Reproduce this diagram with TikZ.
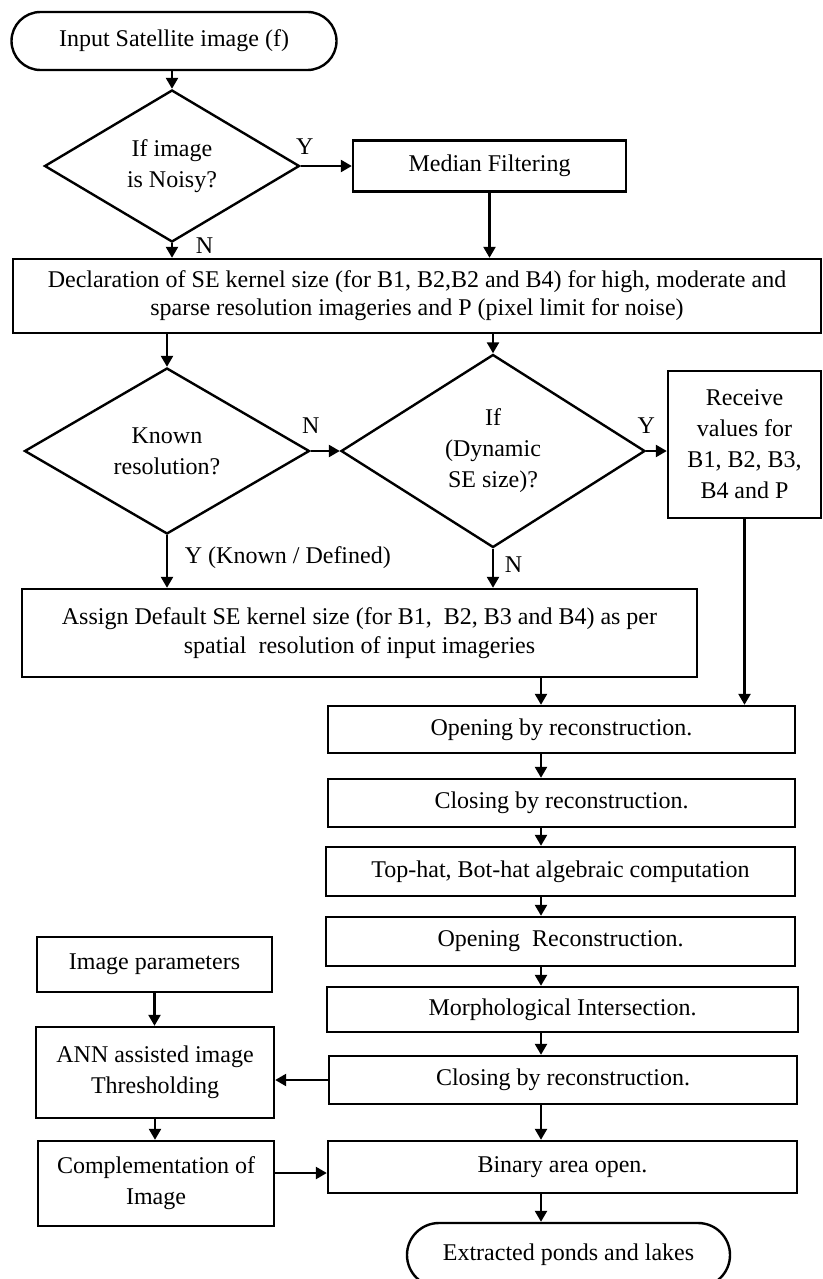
\documentclass[tikz,border=0pt]{standalone}
\usepackage{fontspec}
\setmainfont{Liberation Serif}
\usetikzlibrary{shapes.geometric, arrows.meta, positioning}

\begin{document}
\begin{tikzpicture}[x=0.5pt, y=-0.5pt, line width=1.2pt, >={Triangle[length=5.5pt,width=6pt]},
    every node/.style={font=\fontsize{12}{15.5}\selectfont},
    process/.style={draw, rectangle, align=center, inner sep=0pt},
    decision/.style={draw, diamond, align=center, inner sep=0pt},
    terminal/.style={draw, rectangle, align=center, inner sep=0pt}]

    \useasboundingbox (0,0) rectangle (823,1279);

    % Top part: input and noise check
    \node[terminal, rounded corners=14.5pt, minimum width=162.5pt, minimum height=29pt] (input) at (174,41) {Input Satellite image (f)};
    \node[decision, minimum width=127.5pt, minimum height=76pt] (noisy) at (172,166) {If image\\is Noisy?};
    \node[process, minimum width=136.5pt, minimum height=25.5pt] (median) at (489.5,166) {Median Filtering};
    \node[process, minimum width=404pt, minimum height=37pt, font=\fontsize{12}{14}\selectfont] (declare) at (417,296)
        {Declaration of SE kernel size (for B1, B2,B2 and B4) for high, moderate and\\
         sparse resolution imageries and P (pixel limit for noise)};

    % Middle part: kernel size decisions
    \node[decision, minimum width=142.5pt, minimum height=83pt] (known) at (167,451) {Known\\resolution?};
    \node[decision, minimum width=152pt, minimum height=96.5pt] (dynamic) at (493,451) {If\\(Dynamic\\SE size)?};
    \node[process, minimum width=76.5pt, minimum height=73.5pt] (receive) at (744.5,444.5) {Receive\\values for\\B1, B2, B3,\\B4 and P};
    \node[process, minimum width=337.5pt, minimum height=44pt, font=\fontsize{12}{14.5}\selectfont] (assign) at (359.5,633)
        {Assign Default SE kernel size (for B1,~ B2, B3 and B4) as per\\
         spatial~ resolution of input imageries};

    % Right column: morphological steps
    \node[process, minimum width=233.5pt, minimum height=23.5pt] (open1) at (561.5,729.5) {Opening by reconstruction.};
    \node[process, minimum width=233.5pt, minimum height=24pt] (close1) at (561.5,803) {Closing by reconstruction.};
    \node[process, minimum width=234.5pt, minimum height=24.5pt] (tophat) at (560.5,871.5) {Top-hat, Bot-hat algebraic computation};
    \node[process, minimum width=234.5pt, minimum height=24.5pt] (open2) at (560.5,941.5) {Opening~ Reconstruction.};
    \node[process, minimum width=235.5pt, minimum height=22.5pt] (morph) at (562.5,1009.5) {Morphological Intersection.};
    \node[process, minimum width=234pt, minimum height=24pt] (close2) at (563,1080) {Closing by reconstruction.};
    \node[process, minimum width=234.5pt, minimum height=26pt] (binary) at (562.5,1167) {Binary area open.};
    \node[terminal, rounded corners=16pt, minimum width=161.5pt, minimum height=32pt] (output) at (568.5,1255) {Extracted ponds and lakes};

    % Left column: thresholding
    \node[process, minimum width=117.5pt, minimum height=27.5pt] (params) at (154.5,964.5) {Image parameters};
    \node[process, minimum width=119pt, minimum height=45.5pt] (ann) at (155,1072.5) {ANN assisted image\\Thresholding};
    \node[process, minimum width=118pt, minimum height=42.5pt] (compl) at (156,1183.5) {Complementation of\\Image};

    \coordinate (col) at (541,0);
    \coordinate (row) at (0,1173);

    % Connectors
    \path[->]
    (noisy.north |- input.south) edge (noisy.north)
    (noisy.east) edge node[pos=0.08, above=2pt] (ylabA) {Y} (noisy.east -| median.west)
    (median.south) edge (median.south |- declare.north)
    (noisy.south) edge node[pos=0.15, right=8pt] (nlabA) {N} (noisy.south |- declare.north)
    (known.north |- declare.south) edge (known.north)
    (dynamic.north |- declare.south) edge (dynamic.north)
    (known.east) edge node[pos=0, above=5pt] (nlabB) {N} (dynamic.west)
    (dynamic.east) edge node[pos=0, above=5pt] (ylabB) {Y} (dynamic.east -| receive.west)
    (known.south) edge node[pos=0.43, right=5pt] (ylabC) {Y (Known / Defined)} (known.south |- assign.north)
    (dynamic.south) edge node[pos=0.41, right=2pt] (nlabC) {N} (dynamic.south |- assign.north)
    (assign.south -| col) edge (open1.north -| col)
    (receive.south) edge (receive.south |- open1.north)
    (open1.south -| col) edge (close1.north -| col)
    (close1.south -| col) edge (tophat.north -| col)
    (tophat.south -| col) edge (open2.north -| col)
    (open2.south -| col) edge (morph.north -| col)
    (morph.south -| col) edge (close2.north -| col)
    (close2.south -| col) edge (binary.north -| col)
    (binary.south -| col) edge (output.north -| col)
    (close2.west) edge (close2.west -| ann.east)
    (params.south) edge (params.south |- ann.north)
    (ann.south) edge (ann.south |- compl.north)
    (compl.east |- row) edge (binary.west |- row);
\end{tikzpicture}
\end{document}
